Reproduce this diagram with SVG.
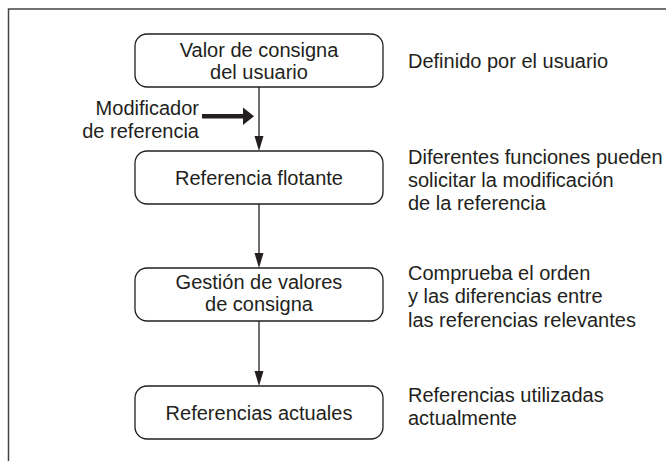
<svg xmlns="http://www.w3.org/2000/svg" width="666" height="461" viewBox="0 0 666 461">
<defs>
<style>
text{font-family:"Liberation Sans",Arial,sans-serif;font-size:20px;fill:#231f20}
.c{text-anchor:middle}
.r{text-anchor:end}
.box{fill:#fff;stroke:#231f20;stroke-width:1.3}
.ln{stroke:#231f20;stroke-width:1.3;fill:none}
</style>
</defs>
<rect width="666" height="461" fill="#fff"/>
<path d="M8.5,461 V9 H666" fill="none" stroke="#444" stroke-width="1.5"/>
<g id="connectors">
<line class="ln" x1="259" y1="87" x2="259" y2="137"/>
<path d="M254.5,136 L263.5,136 L259,151 Z" fill="#231f20"/>
<line class="ln" x1="259" y1="204" x2="259" y2="253"/>
<path d="M254.5,253 L263.5,253 L259,268 Z" fill="#231f20"/>
<line class="ln" x1="259" y1="321" x2="259" y2="371"/>
<path d="M254.5,371 L263.5,371 L259,386 Z" fill="#231f20"/>
<g id="modifier-arrow">
<rect x="202" y="114" width="42" height="4.5" fill="#231f20"/>
<path d="M243,107.5 L254,116.2 L243,125 Z" fill="#231f20"/>
</g>
</g>
<g id="n1">
<rect class="box" x="135" y="34" width="248" height="53" rx="12"/>
<text class="c" x="259" y="57">Valor de consigna</text>
<text class="c" x="259" y="79">del usuario</text>
</g>
<g id="n2">
<rect class="box" x="135" y="151" width="248" height="53" rx="12"/>
<text class="c" x="259" y="185">Referencia flotante</text>
</g>
<g id="n3">
<rect class="box" x="135" y="268" width="248" height="53" rx="12"/>
<text class="c" x="259" y="289">Gestión de valores</text>
<text class="c" x="259" y="311">de consigna</text>
</g>
<g id="n4">
<rect class="box" x="135" y="386" width="248" height="53" rx="12"/>
<text class="c" x="259" y="420">Referencias actuales</text>
</g>
<g id="modifier-label">
<text class="r" x="199" y="115">Modificador</text>
<text class="r" x="199" y="138">de referencia</text>
</g>
<g id="notes">
<text x="408" y="68">Definido por el usuario</text>
<text x="408" y="164">Diferentes funciones pueden</text>
<text x="408" y="187">solicitar la modificación</text>
<text x="408" y="210">de la referencia</text>
<text x="408" y="280">Comprueba el orden</text>
<text x="408" y="303">y las diferencias entre</text>
<text x="408" y="327">las referencias relevantes</text>
<text x="408" y="402">Referencias utilizadas</text>
<text x="408" y="425">actualmente</text>
</g>
</svg>
